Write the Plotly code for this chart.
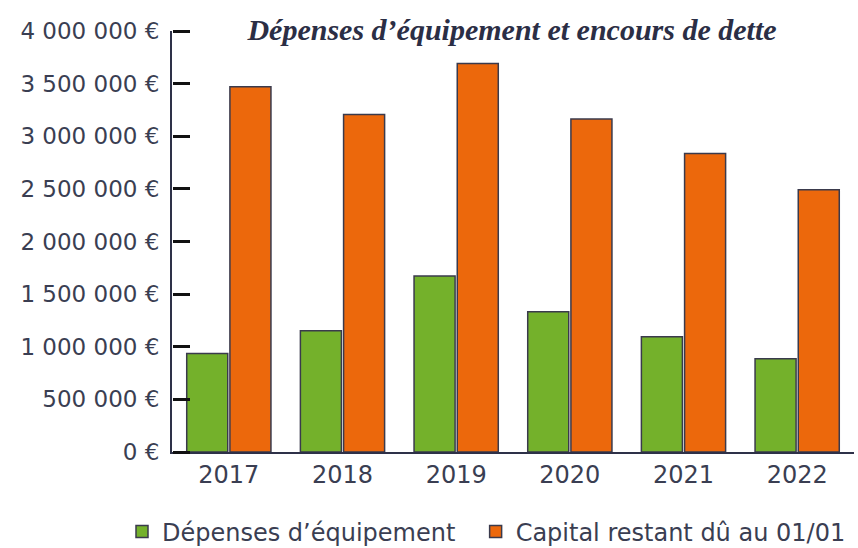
import plotly.graph_objects as go

years = ["2017", "2018", "2019", "2020", "2021", "2022"]
depenses = [936000, 1152000, 1673000, 1333000, 1095000, 886000]
capital = [3470000, 3207000, 3692000, 3165000, 2835000, 2492000]
tick_vals = [0, 500000, 1000000, 1500000, 2000000, 2500000, 3000000, 3500000, 4000000]
tick_text = ["0 €", "500 000 €", "1 000 000 €", "1 500 000 €", "2 000 000 €",
             "2 500 000 €", "3 000 000 €", "3 500 000 €", "4 000 000 €"]
series_names = ["Dépenses d’équipement", "Capital restant dû au 01/01"]

TXT = "#3a3e52"
FONT = "DejaVu Sans"
NB = "\u00a0"

fig = go.Figure()
fig.add_trace(go.Bar(
    x=years, y=depenses, name=series_names[0] + NB * 2,
    marker=dict(color="#74b12b", line=dict(color="#3a3a4c", width=1.5)),
))
fig.add_trace(go.Bar(
    x=years, y=capital, name=series_names[1],
    marker=dict(color="#ec680c", line=dict(color="#3a3a4c", width=1.5)),
))
# helper trace so the tick-mark axis (y2) is drawn
fig.add_trace(go.Scatter(
    x=[years[0]], y=[None], yaxis="y2", mode="markers",
    showlegend=False, hoverinfo="skip",
))

fig.update_layout(
    template="none",
    width=858, height=548,
    margin=dict(l=172, r=4, t=31, b=96, autoexpand=False),
    paper_bgcolor="white", plot_bgcolor="white",
    barmode="group", bargap=0.24, bargroupgap=0.05,
    font=dict(family=FONT, color=TXT, size=24),
    title=dict(
        text="<b><i>Dépenses d’équipement et encours de dette</i></b>",
        font=dict(family="Liberation Serif", size=30, color="#2b2e45"),
        x=512 / 858, xanchor="center", xref="container",
        y=1 - 29 / 548, yanchor="middle", yref="container",
    ),
    showlegend=True,
    legend=dict(
        orientation="h",
        x=-50 / 682, xanchor="left", y=-80 / 421, yanchor="middle",
        font=dict(family=FONT, size=24, color=TXT),
        traceorder="normal", itemwidth=30,
        bgcolor="rgba(0,0,0,0)",
    ),
    yaxis2=dict(
        overlaying="y", side="right", anchor="free", position=0,
        range=[0, 4000000], tickmode="array", tickvals=tick_vals,
        showticklabels=False, showgrid=False, zeroline=False, showline=False,
        ticks="outside", ticklen=17, tickwidth=2.5, tickcolor="#111111",
    ),
)
fig.update_yaxes(
    selector=dict(overlaying=None),
    range=[0, 4000000], tickmode="array", tickvals=tick_vals, ticktext=tick_text,
    showgrid=False, zeroline=False,
    showline=True, linecolor="#2e3148", linewidth=2,
    ticks="", tickfont=dict(family=FONT, size=23, color=TXT),
    ticklabelstandoff=6,
)
fig.update_xaxes(
    type="category", range=[-0.5, 5.5], showgrid=False, zeroline=False,
    showline=True, linecolor="#2e3148", linewidth=2, ticks="",
    tickfont=dict(family=FONT, size=24, color=TXT),
)

fig.write_html("out.html", post_script="document.body.style.margin='0';",
               config={"displayModeBar": False})
